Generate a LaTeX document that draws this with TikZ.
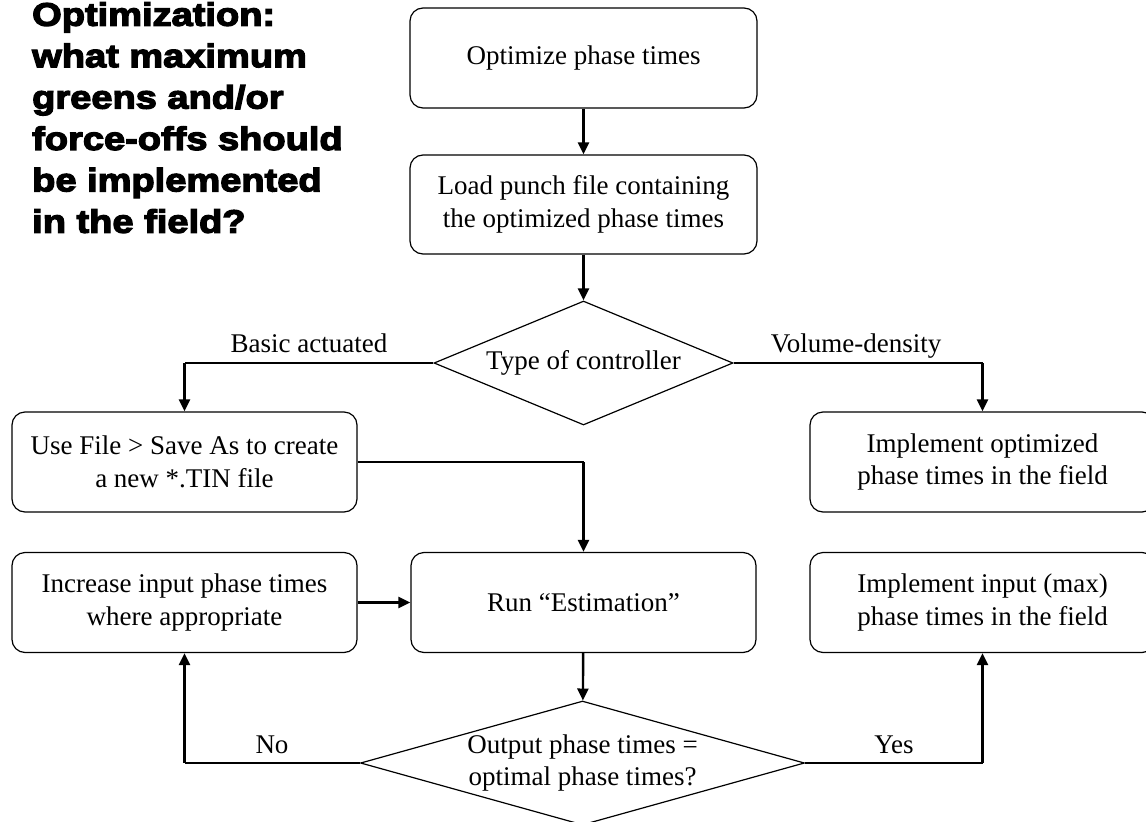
\documentclass[tikz,border=0pt]{standalone}
\usepackage{fontspec}
\setmainfont{Liberation Serif}
\newfontfamily\titlefont{Liberation Sans Bold}[FakeStretch=1.17,FakeBold=4]
\usetikzlibrary{shapes.geometric,arrows.meta}

\begin{document}
\begin{tikzpicture}[x=1pt,y=-1pt,
  every node/.style={font=\fontsize{27}{32.4}\selectfont},
  stepbox/.style={draw, line width=1.2pt, rounded corners=13pt,
    minimum width=345pt, minimum height=100pt, align=center, inner sep=0pt},
  decision/.style={draw, diamond, line width=1.2pt, inner sep=0pt},
  link/.style={line width=1.2pt},
  flow/.style={line width=2.4pt, -{Triangle[length=12pt,width=11pt]}},
  lbl/.style={anchor=base, inner sep=0pt}]

\useasboundingbox (0,0) rectangle (1146,822);
\fill[white] (0,0) rectangle (1146,822);
\clip (0,0) rectangle (1146,822);

% heading
\node[anchor=north west, align=left, inner sep=0pt,
      font=\titlefont\fontsize{32.5}{41.4}\selectfont] (title) at (32,2)
  {Optimization:\\what maximum\\greens and/or\\force-offs should\\be implemented\\in the field?};

% process steps
\node[stepbox, minimum width=347pt] (b1) at (583.5,58) {Optimize phase times};
\node[stepbox, minimum width=347pt, minimum height=99pt] (b2) at (583.5,204.5)
  {Load punch file containing\\the optimized phase times};
\node[decision, minimum width=299pt, minimum height=124pt] (d1) at (583.5,363) {};
\node at (d1) {Type of controller};

\node[stepbox] (b3) at (184.5,462) {Use File > Save As to create\\a new *.TIN file};
\node[stepbox] (b4) at (982.5,462) {Implement optimized\\phase times in the field};

\node[stepbox] (b6) at (184.5,602.5) {Increase input phase times\\where appropriate};
\node[stepbox] (b5) at (583.5,602.5) {Run “Estimation”};
\node[stepbox] (b7) at (982.5,602.5) {Implement input (max)\\phase times in the field};

\node[decision, minimum width=444pt, minimum height=124pt] (d2) at (582.5,763) {};
\node[align=center] at (d2) {Output phase times =\\optimal phase times?};

% connectors
\draw[flow] (b1) -- (b2);
\draw[flow] (b2) -- (d1);

\coordinate (cl) at (b3.north |- d1.west);
\draw[link] (d1.west) -- (cl);
\draw[flow] (cl) -- (b3.north);
\node[lbl] at (309,352) {Basic actuated};

\coordinate (cr) at (b4.north |- d1.east);
\draw[link] (d1.east) -- (cr);
\draw[flow] (cr) -- (b4.north);
\node[lbl] at (856,352) {Volume-density};

\coordinate (cm) at (b5.north |- b3.east);
\draw[link] (b3.east) -- (cm);
\draw[flow] (cm) -- (b5.north);

\draw[flow] (b6.east) -- (b5.west);
\draw[flow] (b5) -- (d2);

\coordinate (cn) at (b6.south |- d2.west);
\draw[link] (d2.west) -- (cn);
\draw[flow] (cn) -- (b6.south);
\node[lbl] at (272,753) {No};

\coordinate (cy) at (b7.south |- d2.east);
\draw[link] (d2.east) -- (cy);
\draw[flow] (cy) -- (b7.south);
\node[lbl] at (894,753) {Yes};
\end{tikzpicture}
\end{document}
